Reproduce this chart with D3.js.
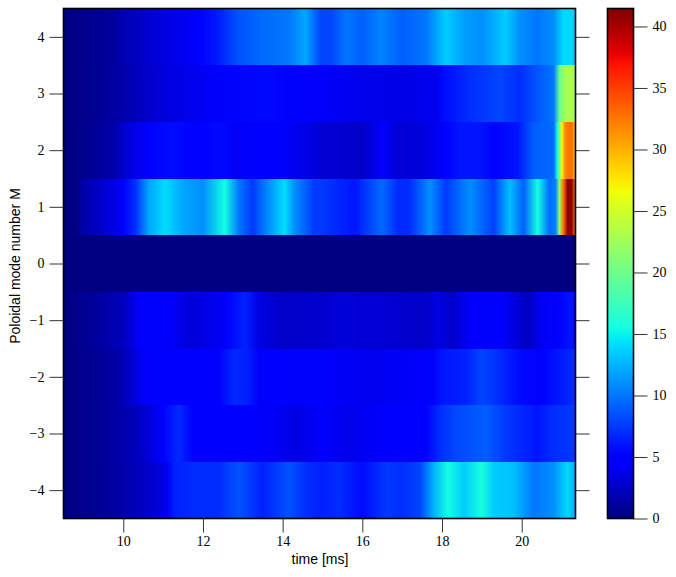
<!DOCTYPE html>
<html>
<head>
<meta charset="utf-8">
<script src="https://cdn.jsdelivr.net/npm/d3@7/dist/d3.min.js"></script>
<style>
html,body{margin:0;padding:0;background:#fff;}
svg{display:block;}
.tick text{font-family:"Liberation Serif",serif;font-size:14px;fill:#000;}
.lab{font-family:"Liberation Sans",Arial,sans-serif;font-size:14px;fill:#000;}
.tick line{stroke:#333;stroke-width:1;}
</style>
</head>
<body>
<svg id="c" width="676" height="577"></svg>
<script>
const xTickValues = [10,12,14,16,18,20];
const yTickValues = [-4,-3,-2,-1,0,1,2,3,4];
const cTickValues = [0,5,10,15,20,25,30,35,40];
const timeRange = [8.5,21.35];
const ampMax = 41.46;

const t_p4 = [8.5,9.3,9.75,10,11,11.9,12.3,12.9,13.5,14.15,14.57,14.95,15.2,15.6,16,16.45,17,17.6,18.1,18.6,19,19.6,19.95,20.4,20.8,21.05,21.25,21.35];
const a_p4 = [0,0.6,1,1.8,3.5,5,6,8.5,9.5,10,12,8,8,10,9,10.5,9,10,13.5,11.5,11,13.5,11,10,11,14,14,13];

const t_p3 = [8.5,9.3,10.05,11,12.3,13.65,14.15,15,15.3,16.2,17.2,17.9,18,18.7,19.1,19.45,19.95,20.5,20.8,20.95,21.1,21.25,21.35];
const a_p3 = [0,0.6,1.6,3.3,4.4,5.5,4.5,4.4,4.2,3.8,3.7,4.1,5.5,7,7.5,8,7,9,10,19.5,23,23,22];

const t_p2 = [8.5,9.2,9.8,10.05,10.6,11.2,11.8,12.5,12.8,13.3,14,15,16,16.5,16.9,17.4,18.1,18.45,18.95,19.3,19.9,20.3,20.8,20.9,21,21.1,21.25,21.35];
const a_p2 = [0,0.7,1.6,3,4.6,5.6,4.8,5.5,4.2,4.7,4.7,3,2.6,4.8,3,3.2,4.7,6,6,5,6,9,9.5,16,26,32,33,29];

const t_p1 = [8.5,8.9,8.95,10,10.3,10.65,11.05,11.5,12,12.55,12.9,13.25,13.65,14.05,14.3,14.8,14.95,15.8,16.5,16.9,17.2,17.7,18.1,18.7,19.3,19.7,20.05,20.4,20.7,20.85,20.95,21.05,21.15,21.25,21.35];
const a_p1 = [0,0.4,1.3,4.4,7,12,14.2,12,11,15.5,10,7.5,11,14.2,11,7.5,7.5,6,9.5,6.8,7,11,7.5,11,7.8,13,9,15.5,9.5,10.5,22,33,41,41,32];

const t_0 = [8.5,21.35];
const a_0 = [0,0];

const t_m1 = [8.5,9.3,10,10.4,10.8,11.2,11.7,12.6,13.05,13.4,14,15,15.5,16,16.5,17.6,17.9,18.25,18.7,19.45,20.15,20.5,20.9,21.25,21.35];
const a_m1 = [0,1,2.2,4.4,5,4.4,3.2,4.4,6.5,3.6,2.6,2.8,3.3,3,3,2.6,3.6,2.6,4.4,4.8,2.3,4.2,4.8,6,5];

const t_m2 = [8.5,9.3,10,10.5,11,12.4,12.8,13.1,13.4,15,16.2,17.8,18,18.6,19,19.6,19.95,20.5,21.1,21.35];
const a_m2 = [0,0.7,1.8,4.4,4.8,4.8,6.8,6.5,4.8,4.5,4,5,6,6.5,8,6.5,5.5,5,6.5,7];

const t_m3 = [8.5,9.3,10.1,10.4,11,11.4,11.75,12.4,12.8,13.4,14.4,15,15.6,16.6,17.6,17.95,18.3,19.1,19.6,20.4,20.8,21.35];
const a_m3 = [0,0.7,1.8,2.4,4.6,6.8,5,5,5.2,4.6,3.6,5,3.8,4.8,5,7,8,9,7.5,6,7,7.5];

const t_m4 = [8.5,9.3,10.1,10.8,11.1,11.3,11.8,12.4,12.9,13.5,14.15,14.6,15,15.4,16,16.6,17,17.45,17.8,18.15,18.55,19,19.3,19.8,20.3,20.8,21.15,21.35];
const a_m4 = [0,0.7,1.7,3,4,6.5,7,7,8.5,6.5,8.5,7,6.5,7,5.5,7.5,7,8,12.5,15.5,13.5,15.7,13.5,13,10,11,14,12];

const rows = [
 [4,t_p4,a_p4],[3,t_p3,a_p3],[2,t_p2,a_p2],[1,t_p1,a_p1],[0,t_0,a_0],
 [-1,t_m1,a_m1],[-2,t_m2,a_m2],[-3,t_m3,a_m3],[-4,t_m4,a_m4]
];

const left=63.5,right=575.5,top_=8.5,bottom=518.5;
const svg=d3.select("#c");
const x=d3.scaleLinear().domain(timeRange).range([left,right]);
const y=d3.scaleLinear().domain([-4.5,4.5]).range([bottom,top_]);

const jetPos=[0,.11,.125,.34,.35,.375,.64,.65,.66,.89,.91,1];
const jetCol=jetPos.map(p=>{
  const pl=(xs,ys)=>d3.scaleLinear().domain(xs).range(ys).clamp(true)(p);
  const r=pl([0,.35,.66,.89,1],[0,0,1,1,.5]);
  const g=pl([0,.125,.375,.64,.91,1],[0,0,1,1,0,0]);
  const b=pl([0,.11,.34,.65,1],[.5,1,1,0,0]);
  return d3.rgb(r*255,g*255,b*255).formatRgb();
});
const color=d3.scaleLinear().domain(jetPos.map(p=>p*ampMax)).range(jetCol).clamp(true);

const defs=svg.append("defs");
rows.forEach(([m,ts,as])=>{
  const id="row"+(m<0?"m"+(-m):"p"+m);
  const g=defs.append("linearGradient").attr("id",id)
    .attr("gradientUnits","userSpaceOnUse")
    .attr("x1",x(timeRange[0])).attr("x2",x(timeRange[1])).attr("y1",0).attr("y2",0);
  g.selectAll("stop").data(ts.map((t,i)=>({t,a:as[i]}))).join("stop")
    .attr("offset",d=>(x(d.t)-x(timeRange[0]))/(x(timeRange[1])-x(timeRange[0])))
    .attr("stop-color",d=>color(d.a));
  svg.append("rect")
    .attr("shape-rendering","crispEdges")
    .attr("x",x(timeRange[0])).attr("width",x(timeRange[1])-x(timeRange[0]))
    .attr("y",Math.round(y(m+.5))).attr("height",Math.round(y(m-.5))-Math.round(y(m+.5)))
    .attr("fill","url(#"+id+")");
});

function style(g){g.select(".domain").remove();}
svg.append("g").attr("transform",`translate(0,${bottom})`)
  .call(d3.axisBottom(x).tickValues(xTickValues).tickSize(14).tickPadding(4).tickFormat(d3.format("d"))).call(style);
svg.append("g").attr("transform",`translate(${left},0)`)
  .call(d3.axisLeft(y).tickValues(yTickValues).tickSize(14).tickPadding(5).tickFormat(d=>d<0?"\u2212"+(-d):d)).call(style);
svg.append("g").attr("transform",`translate(${right},0)`)
  .call(d3.axisRight(y).tickValues(yTickValues).tickSize(14).tickFormat("")).call(style);
svg.append("rect").attr("x",left).attr("y",top_).attr("width",right-left).attr("height",bottom-top_)
  .attr("fill","none").attr("stroke","#000").attr("stroke-width",1.6);

const cx0=607.5,cx1=633.5;
const cy=d3.scaleLinear().domain([0,ampMax]).range([bottom,top_]);
const cg=defs.append("linearGradient").attr("id","cbar").attr("x1",0).attr("x2",0).attr("y1",1).attr("y2",0);
cg.selectAll("stop").data(jetPos).join("stop").attr("offset",d=>d).attr("stop-color",(d,i)=>jetCol[i]);
svg.append("rect").attr("x",cx0).attr("y",top_).attr("width",cx1-cx0).attr("height",bottom-top_)
  .attr("fill","url(#cbar)").attr("stroke","#000").attr("stroke-width",1.6);
svg.append("g").attr("transform",`translate(${cx1},0)`)
  .call(d3.axisRight(cy).tickValues(cTickValues).tickSize(14).tickPadding(5)).call(style);

svg.append("text").attr("class","lab").attr("x",320).attr("y",564).attr("text-anchor","middle").text("time [ms]");
svg.append("text").attr("class","lab").attr("transform","translate(20,266) rotate(-90)").attr("text-anchor","middle").text("Poloidal mode number M");
</script>
</body>
</html>
